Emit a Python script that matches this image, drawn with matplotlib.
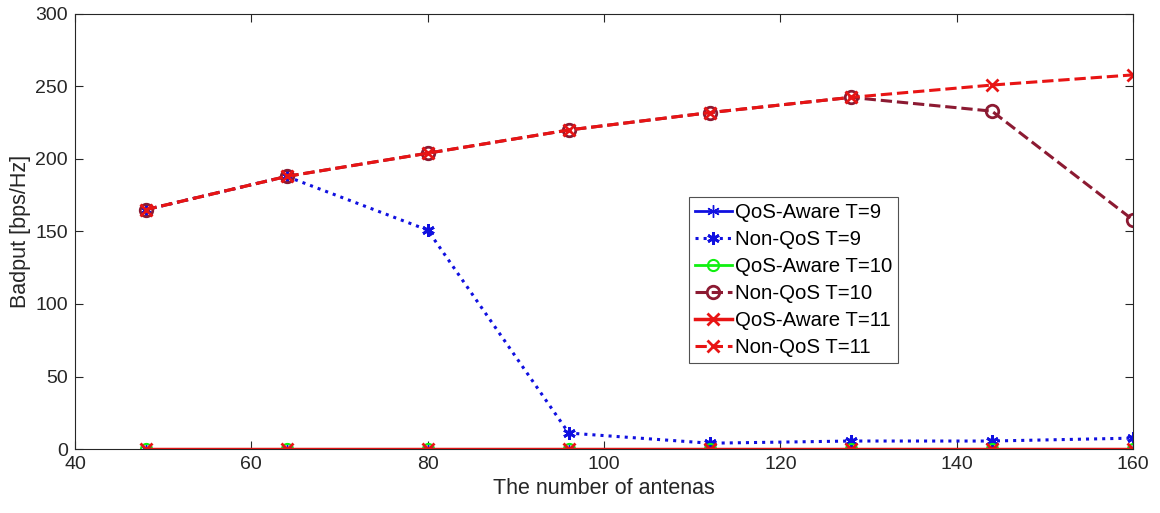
import matplotlib
matplotlib.use("Agg")
import matplotlib.pyplot as plt

plt.rcParams['font.family'] = ['Liberation Sans', 'DejaVu Sans']

# number of antennas
antennas = [48, 64, 80, 96, 112, 128, 144, 160]

# badput values
qos_t9 = [0, 0, 0, 0, 0, 0, 0, 0]
nonqos_t9 = [165, 188, 151, 11, 4, 5.5, 5.5, 7.5]
qos_t10 = [0, 0, 0, 0, 0, 0, 0, 0]
nonqos_t10 = [165, 188, 204, 220, 232, 242.5, 233, 158]
qos_t11 = [0, 0, 0, 0, 0, 0, 0, 0]
nonqos_t11 = [165, 188, 204, 220, 232, 242.5, 251, 258]

blue = '#1010e0'
green = '#10f010'
maroon = '#8c1a32'
red = '#e81414'

fig = plt.figure(figsize=(11.6, 5.13), dpi=100)
ax = fig.add_axes([75 / 1160, 1 - 449 / 513, 1058 / 1160, 435 / 513])

ax.plot(antennas, qos_t9, color=blue, ls='-', lw=2, marker=(6, 2, 0), ms=9, label='QoS-Aware T=9')
ax.plot(antennas, nonqos_t9, color=blue, ls=':', lw=2.2, marker=(6, 2, 0), ms=9, mew=2, label='Non-QoS T=9')
ax.plot(antennas, qos_t10, color=green, ls='-', lw=2, marker='o', ms=8, mfc='none', mew=1.5, label='QoS-Aware T=10')
ax.plot(antennas, nonqos_t10, color=maroon, ls='--', lw=2.2, marker='o', ms=9, mfc='none', mew=2, label='Non-QoS T=10')
ax.plot(antennas, qos_t11, color=red, ls='-', lw=2.5, marker='x', ms=8, mew=2, label='QoS-Aware T=11')
ax.plot(antennas, nonqos_t11, color=red, ls='--', lw=2.2, marker='x', ms=8, mew=2, label='Non-QoS T=11')

ax.set_xlim(40, 160)
ax.set_ylim(0, 300)
ax.set_xticks(range(40, 161, 20))
ax.set_yticks(range(0, 301, 50))
ax.tick_params(direction='in', top=True, right=True, labelsize=14, colors='#262626', length=6, pad=5)
for s in ax.spines.values():
    s.set_color('#262626')
    s.set_linewidth(0.8)

ax.set_xlabel('The number of antenas', fontsize=15.5, color='#262626', labelpad=4)
ax.set_ylabel('Badput [bps/Hz]', fontsize=15.5, color='#262626', labelpad=3)

leg = ax.legend(loc='upper left', bbox_to_anchor=(0.580, 0.579), fontsize=14.7,
                frameon=True, fancybox=False, edgecolor='#262626',
                handlelength=1.8, handletextpad=0.15, borderpad=0.3,
                labelspacing=0.39, borderaxespad=0)
leg.get_frame().set_linewidth(0.8)

fig.savefig('out.png', dpi=100)
